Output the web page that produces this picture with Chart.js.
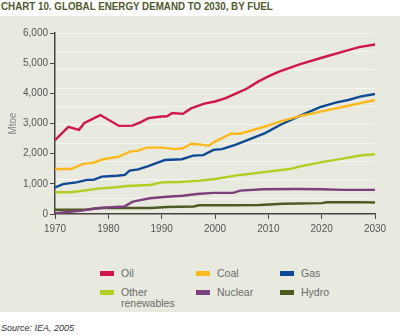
<!DOCTYPE html>
<html>
<head>
<meta charset="utf-8">
<script src="https://cdn.jsdelivr.net/npm/chart.js@4.4.1/dist/chart.umd.min.js"></script>
<style>
  html, body { margin: 0; padding: 0; background: #ffffff; }
  body { width: 400px; height: 335px; position: relative; overflow: hidden; font-family: "Liberation Sans", Arial, sans-serif; }
  #title { position: absolute; left: 1px; top: 0px; font-weight: bold; font-size: 11px; color: #4e5a2b; white-space: nowrap; line-height: 13px; transform: scaleX(0.89); transform-origin: 0 0; }
  #panel { position: absolute; left: 0; top: 16px; width: 400px; height: 296px; background: #e8eadf; }
  #chart { position: absolute; left: 0; top: 0; }
  #legend { position: absolute; left: 0; top: 0; width: 400px; }
  .item { position: absolute; font-size: 10.5px; line-height: 11px; color: #6a6a6a; }
  .sw { position: absolute; left: 0; top: 3px; width: 14px; height: 5px; }
  .lt { position: absolute; left: 21px; top: 0; white-space: nowrap; }
  #source { position: absolute; left: 1px; top: 323px; font-size: 9px; font-style: italic; color: #333; white-space: nowrap; }
</style>
</head>
<body>
<div id="title">CHART 10. GLOBAL ENERGY DEMAND TO 2030, BY FUEL</div>
<div id="panel">
  <canvas id="chart" width="400" height="226"></canvas>
  <div id="legend"></div>
</div>
<div id="source">Source: IEA, 2005</div>
<script>
// ---- Data ----
const seriesNames = ["Oil", "Coal", "Gas", "Other\nrenewables", "Nuclear", "Hydro"];
const seriesColors = ["#d3154a", "#fcb91c", "#0d4a96", "#b4ce20", "#7b3f7d", "#4c5a1f"];

const oilYears = [1970, 1972.5, 1974.5, 1975.5, 1978.5, 1982, 1984.5, 1986, 1987.5, 1990, 1991, 1992, 1994, 1995.5, 1998, 2000, 2002, 2004, 2006, 2008, 2010, 2012, 2016, 2020, 2024, 2027, 2030];
const oilValues = [2450, 2890, 2790, 3020, 3280, 2920, 2930, 3040, 3180, 3230, 3240, 3350, 3320, 3500, 3660, 3730, 3840, 4000, 4160, 4380, 4560, 4720, 4970, 5180, 5380, 5530, 5620];

const coalYears = [1970, 1973, 1975.3, 1977.2, 1979, 1982, 1984, 1985.6, 1987.2, 1990, 1992.5, 1994, 1995.6, 1997.5, 1998.8, 2000, 2003, 2004.7, 2009.4, 2012.2, 2016, 2020, 2023.4, 2027.2, 2030];
const coalValues = [1490, 1490, 1660, 1700, 1815, 1900, 2070, 2100, 2200, 2200, 2150, 2180, 2330, 2300, 2260, 2400, 2660, 2660, 2900, 3060, 3250, 3400, 3530, 3670, 3780];

const gasYears = [1970, 1971.5, 1974, 1976, 1977.2, 1978.8, 1981.6, 1983.1, 1984, 1985.6, 1987.5, 1989.5, 1990.6, 1993.8, 1995.9, 1997.8, 1999.7, 2001.3, 2003.8, 2006.9, 2009.4, 2012.2, 2015.9, 2019.7, 2022.8, 2025, 2027.2, 2030];
const gasValues = [880, 990, 1050, 1130, 1130, 1240, 1270, 1295, 1440, 1480, 1590, 1720, 1790, 1815, 1935, 1950, 2125, 2150, 2290, 2510, 2680, 2950, 3250, 3540, 3700, 3780, 3890, 3980];

const renewYears = [1970, 1973, 1978.4, 1981.6, 1983.4, 1987.8, 1990, 1993.4, 1997.2, 2000, 2004.7, 2008.4, 2014, 2016, 2020, 2023.4, 2027.2, 2030];
const renewValues = [720, 720, 850, 886, 930, 963, 1050, 1060, 1105, 1160, 1295, 1370, 1490, 1580, 1720, 1820, 1940, 1980];

const nuclearYears = [1970, 1975, 1977.8, 1980.6, 1983, 1984.5, 1985.5, 1987.8, 1991, 1994, 1996.6, 1999.7, 2003.4, 2004.7, 2009, 2015, 2020, 2024, 2030];
const nuclearValues = [25, 110, 190, 222, 250, 400, 441, 521, 574, 607, 664, 700, 700, 775, 820, 830, 820, 800, 800];

const hydroYears = [1970, 1976, 1978.5, 1988, 1991, 1996, 1997, 2003, 2008.4, 2012.8, 2020, 2021, 2027, 2030];
const hydroValues = [140, 150, 200, 200, 230, 250, 290, 290, 300, 340, 360, 390, 395, 380];

const xTicks = [1970, 1980, 1990, 2000, 2010, 2020, 2030];
const yTicks = [0, 1000, 2000, 3000, 4000, 5000, 6000];

// ---- Build chart ----
const allYears = [oilYears, coalYears, gasYears, renewYears, nuclearYears, hydroYears];
const allValues = [oilValues, coalValues, gasValues, renewValues, nuclearValues, hydroValues];

const datasets = seriesNames.map((name, i) => ({
  label: name.replace("\n", " "),
  data: allYears[i].map((x, j) => ({ x: x, y: allValues[i][j] })),
  borderColor: seriesColors[i],
  backgroundColor: seriesColors[i],
  borderWidth: 2.4,
  pointRadius: 0,
  tension: 0,
  fill: false,
  order: i
}));

const tickFont = { family: "'Liberation Sans', Arial, sans-serif", size: 10 };

new Chart(document.getElementById("chart"), {
  type: "line",
  data: { datasets: datasets },
  options: {
    responsive: false,
    animation: false,
    events: [],
    layout: { padding: { top: 17, right: 25, bottom: 0, left: 0 } },
    plugins: { legend: { display: false }, tooltip: { enabled: false } },
    scales: {
      x: {
        type: "linear",
        min: xTicks[0],
        max: xTicks[xTicks.length - 1],
        afterBuildTicks: (s) => { s.ticks = xTicks.map(v => ({ value: v })); },
        afterFit: (s) => { s.height = 28; },
        ticks: { color: "#555", font: tickFont, padding: 4, maxRotation: 0, callback: (v) => String(v) },
        grid: { drawOnChartArea: false, drawTicks: true, tickLength: 5, color: "#444", lineWidth: 1 },
        border: { display: true, color: "#444", width: 1.5 }
      },
      y: {
        type: "linear",
        min: yTicks[0],
        max: yTicks[yTicks.length - 1],
        afterBuildTicks: (s) => { s.ticks = yTicks.map(v => ({ value: v })); },
        afterFit: (s) => { s.width = 55; },
        ticks: { color: "#555", font: tickFont, padding: 2, callback: (v) => v.toLocaleString("en-US") },
        grid: { drawOnChartArea: false, drawTicks: true, tickLength: 5, color: "#444", lineWidth: 1 },
        border: { display: true, color: "#444", width: 1.5 },
        title: { display: true, text: "Mtoe", color: "#888", font: { family: "'Liberation Sans', Arial, sans-serif", size: 10 }, padding: { top: 7, bottom: 0 } }
      },
      bg: {
        type: "linear",
        position: "right",
        min: yTicks[0],
        max: yTicks[yTicks.length - 1],
        afterBuildTicks: (s) => { const t = []; for (let v = 6000; v > 300; v -= 608) t.push({ value: v }); s.ticks = t; },
        afterFit: (s) => { s.width = 0; },
        ticks: { display: false },
        grid: { drawTicks: false, color: "rgba(255,255,255,0.55)", lineWidth: 1 },
        border: { display: false }
      }
    }
  }
});

// ---- HTML legend ----
const legendCols = [100, 196, 280];
const legendRows = [252, 271];
const legend = document.getElementById("legend");
seriesNames.forEach((name, i) => {
  const item = document.createElement("div");
  item.className = "item";
  item.style.left = legendCols[i % 3] + "px";
  item.style.top = legendRows[Math.floor(i / 3)] + "px";
  const sw = document.createElement("div");
  sw.className = "sw";
  sw.style.background = seriesColors[i];
  const lt = document.createElement("div");
  lt.className = "lt";
  lt.innerHTML = name.split("\n").join("<br>");
  item.appendChild(sw);
  item.appendChild(lt);
  legend.appendChild(item);
});
</script>
</body>
</html>
